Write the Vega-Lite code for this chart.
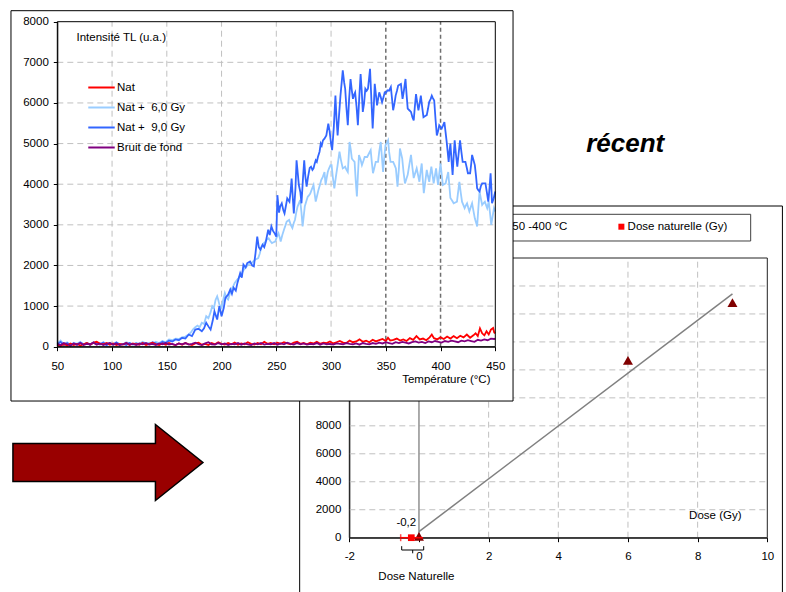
{
"$schema": "https://vega.github.io/schema/vega-lite/v6.json",
"width": 786, "height": 592, "autosize": "none", "padding": 0, "background": "white",
"config": {
  "view": {"stroke": null},
  "font": "Liberation Sans",
  "text": {"font": "Liberation Sans", "fontSize": 11.5, "color": "#000"},
  "axis": {"labelFont": "Liberation Sans", "titleFont": "Liberation Sans", "labelFontSize": 11.5, "titleFontSize": 11.5, "labelColor": "#000", "titleColor": "#000", "titleFontWeight": "normal", "domainColor": "#000", "tickColor": "#000", "grid": false, "labelOverlap": false, "labelFlush": false}
},
"datasets": {
  "fgy": [{"g":1000},{"g":2000},{"g":3000},{"g":4000},{"g":5000},{"g":6000},{"g":7000}],
  "fgx": [{"g":100},{"g":150},{"g":200},{"g":250},{"g":300}],
  "fvx": [{"g":350},{"g":400}],
  "bgy": [{"g":2000},{"g":4000},{"g":6000},{"g":8000},{"g":10000},{"g":12000},{"g":14000},{"g":16000},{"g":18000}],
  "bgx": [{"g":2},{"g":4},{"g":6},{"g":8}],
  "pts": [{"dose":0,"I":100},{"dose":6,"I":12685},{"dose":9,"I":16804}],
  "fit": [{"dose":0,"I":430},{"dose":9,"I":17440}],
  "natdose": [{"dose":-0.22,"I":0,"lo":-0.525,"hi":0.115,"label":"-0,2"}],
  "d9": [{"T":50,"v":60},{"T":53,"v":120},{"T":56,"v":40},{"T":59,"v":90},{"T":62,"v":30},{"T":65,"v":80},{"T":68,"v":50},{"T":71,"v":100},{"T":74,"v":60},{"T":77,"v":90},{"T":80,"v":40},{"T":83,"v":110},{"T":86,"v":70},{"T":89,"v":60},{"T":92,"v":100},{"T":95,"v":40},{"T":98,"v":80},{"T":101,"v":60},{"T":104,"v":110},{"T":107,"v":50},{"T":110,"v":70},{"T":113,"v":40},{"T":116,"v":90},{"T":119,"v":60},{"T":122,"v":80},{"T":125,"v":50},{"T":128,"v":100},{"T":131,"v":70},{"T":134,"v":60},{"T":137,"v":110},{"T":140,"v":80},{"T":143,"v":60},{"T":146,"v":120},{"T":149,"v":90},{"T":152,"v":150},{"T":155,"v":130},{"T":158,"v":180},{"T":161,"v":160},{"T":164,"v":220},{"T":167,"v":200},{"T":170,"v":300},{"T":173,"v":260},{"T":176,"v":420},{"T":179,"v":440},{"T":182,"v":380},{"T":184,"v":450},{"T":186,"v":590},{"T":188,"v":500},{"T":190,"v":420},{"T":192,"v":650},{"T":193.5,"v":870},{"T":196,"v":670},{"T":198,"v":1000},{"T":200,"v":750},{"T":202,"v":950},{"T":203.5,"v":1200},{"T":206,"v":1280},{"T":208,"v":1410},{"T":209.5,"v":1300},{"T":211,"v":1450},{"T":213,"v":1380},{"T":214.5,"v":1570},{"T":217,"v":1810},{"T":218.5,"v":1700},{"T":220,"v":2020},{"T":222,"v":1950},{"T":223.5,"v":2060},{"T":226,"v":2100},{"T":228,"v":2000},{"T":229.5,"v":1980},{"T":231,"v":2300},{"T":232.6,"v":2710},{"T":234,"v":2450},{"T":235.5,"v":2390},{"T":237.5,"v":2510},{"T":239,"v":2450},{"T":240.5,"v":2590},{"T":242.6,"v":2880},{"T":244,"v":2750},{"T":245.5,"v":2960},{"T":247,"v":2850},{"T":248.5,"v":2790},{"T":250,"v":2710},{"T":251,"v":3730},{"T":252.5,"v":3300},{"T":253.5,"v":3450},{"T":255,"v":3530},{"T":256.5,"v":3350},{"T":257.5,"v":3280},{"T":259,"v":3500},{"T":260,"v":3650},{"T":262,"v":3570},{"T":263,"v":3800},{"T":264,"v":4140},{"T":265,"v":3700},{"T":266,"v":3280},{"T":267.5,"v":3900},{"T":268.5,"v":4590},{"T":269.5,"v":4300},{"T":270.6,"v":3980},{"T":272,"v":3800},{"T":273,"v":3530},{"T":274.5,"v":4200},{"T":275.5,"v":4590},{"T":276.5,"v":4200},{"T":277.7,"v":3940},{"T":279,"v":4180},{"T":280.5,"v":4400},{"T":281.7,"v":4430},{"T":283,"v":4350},{"T":284,"v":4390},{"T":285,"v":4500},{"T":286,"v":4590},{"T":287,"v":4550},{"T":288,"v":4670},{"T":289.5,"v":4800},{"T":290.6,"v":5000},{"T":291.5,"v":4950},{"T":292.6,"v":5080},{"T":294,"v":5120},{"T":295.7,"v":5200},{"T":297.5,"v":5490},{"T":298.7,"v":5300},{"T":300,"v":5000},{"T":301,"v":4840},{"T":302.5,"v":5400},{"T":304,"v":6180},{"T":305,"v":5600},{"T":306,"v":5200},{"T":307.3,"v":5700},{"T":308.6,"v":6180},{"T":309.7,"v":6500},{"T":310.7,"v":6800},{"T":312,"v":6500},{"T":312.9,"v":6350},{"T":314,"v":5900},{"T":315.3,"v":5450},{"T":316.5,"v":6100},{"T":317.8,"v":6590},{"T":319,"v":6300},{"T":320,"v":6100},{"T":321,"v":6200},{"T":322,"v":6260},{"T":323.3,"v":5900},{"T":324.5,"v":5450},{"T":325.7,"v":6100},{"T":327,"v":6710},{"T":328,"v":6300},{"T":329,"v":5780},{"T":330.2,"v":6000},{"T":331.3,"v":6350},{"T":332.5,"v":6300},{"T":333.7,"v":6350},{"T":334.7,"v":6600},{"T":335.6,"v":6840},{"T":336.8,"v":6100},{"T":338,"v":5370},{"T":339,"v":5900},{"T":339.9,"v":6470},{"T":341,"v":6200},{"T":342,"v":5940},{"T":343,"v":6100},{"T":344,"v":6260},{"T":345.3,"v":6150},{"T":346.6,"v":6020},{"T":348,"v":6150},{"T":349,"v":6260},{"T":350.2,"v":6250},{"T":351.5,"v":6310},{"T":353,"v":6300},{"T":354.6,"v":6390},{"T":355.7,"v":6100},{"T":356.7,"v":5820},{"T":358,"v":6000},{"T":359,"v":6180},{"T":360.2,"v":6300},{"T":361.3,"v":6430},{"T":362.5,"v":6450},{"T":363.8,"v":6470},{"T":365.3,"v":6100},{"T":366.5,"v":6300},{"T":368,"v":6590},{"T":369,"v":6200},{"T":370,"v":5860},{"T":371.5,"v":5820},{"T":373,"v":5780},{"T":374.3,"v":5650},{"T":375.5,"v":5570},{"T":376.5,"v":5900},{"T":377.6,"v":6220},{"T":378.7,"v":6000},{"T":379.8,"v":5820},{"T":381,"v":6000},{"T":382,"v":6180},{"T":383.2,"v":5900},{"T":384.4,"v":5650},{"T":386,"v":5680},{"T":387.4,"v":5700},{"T":388.5,"v":5850},{"T":389.6,"v":6020},{"T":391,"v":6100},{"T":392,"v":6180},{"T":393,"v":6120},{"T":394.2,"v":6060},{"T":395.4,"v":5600},{"T":396.6,"v":5200},{"T":397.7,"v":5300},{"T":398.8,"v":5450},{"T":400,"v":5400},{"T":401,"v":5370},{"T":402.3,"v":5450},{"T":403.5,"v":5530},{"T":404.5,"v":5300},{"T":405.6,"v":5040},{"T":406.5,"v":4800},{"T":407.4,"v":4550},{"T":408.2,"v":4800},{"T":409,"v":5000},{"T":410,"v":4600},{"T":411,"v":4230},{"T":412,"v":4700},{"T":412.9,"v":5080},{"T":414,"v":4750},{"T":415.3,"v":4430},{"T":416.5,"v":4750},{"T":417.8,"v":5080},{"T":419,"v":4800},{"T":420.2,"v":4550},{"T":421.5,"v":4550},{"T":422.7,"v":4550},{"T":424,"v":4400},{"T":425,"v":4270},{"T":426,"v":4270},{"T":427,"v":4270},{"T":428,"v":4500},{"T":428.8,"v":4720},{"T":430,"v":4600},{"T":431.3,"v":4470},{"T":432.4,"v":4200},{"T":433.4,"v":3900},{"T":434.5,"v":3850},{"T":435.6,"v":3820},{"T":436.8,"v":3950},{"T":438,"v":4020},{"T":439.5,"v":4020},{"T":441,"v":4020},{"T":442.3,"v":3800},{"T":443.6,"v":3570},{"T":444.7,"v":3900},{"T":445.7,"v":4270},{"T":446.4,"v":3900},{"T":447,"v":3530},{"T":448.5,"v":3650},{"T":450,"v":3820}],
  "d6": [{"T":50,"v":80},{"T":53,"v":150},{"T":56,"v":60},{"T":59,"v":110},{"T":62,"v":50},{"T":65,"v":100},{"T":68,"v":70},{"T":71,"v":120},{"T":74,"v":50},{"T":77,"v":90},{"T":80,"v":60},{"T":83,"v":100},{"T":86,"v":80},{"T":89,"v":50},{"T":92,"v":110},{"T":95,"v":70},{"T":98,"v":90},{"T":101,"v":50},{"T":104,"v":100},{"T":107,"v":70},{"T":110,"v":60},{"T":113,"v":110},{"T":116,"v":80},{"T":119,"v":50},{"T":122,"v":90},{"T":125,"v":70},{"T":128,"v":120},{"T":131,"v":80},{"T":134,"v":100},{"T":137,"v":60},{"T":140,"v":120},{"T":143,"v":90},{"T":146,"v":140},{"T":149,"v":110},{"T":152,"v":180},{"T":155,"v":160},{"T":158,"v":200},{"T":161,"v":190},{"T":164,"v":230},{"T":167,"v":250},{"T":170,"v":300},{"T":172,"v":350},{"T":174,"v":430},{"T":176,"v":480},{"T":178,"v":520},{"T":180,"v":480},{"T":182,"v":590},{"T":184,"v":560},{"T":186,"v":750},{"T":188,"v":700},{"T":190,"v":850},{"T":191.5,"v":1000},{"T":193,"v":950},{"T":194.5,"v":1150},{"T":196,"v":1240},{"T":197,"v":1150},{"T":198,"v":1040},{"T":200,"v":960},{"T":201.5,"v":1150},{"T":203,"v":1320},{"T":204.5,"v":1200},{"T":206,"v":1160},{"T":207.5,"v":1300},{"T":209,"v":1410},{"T":210.5,"v":1480},{"T":212,"v":1570},{"T":214,"v":1640},{"T":215.5,"v":1690},{"T":217,"v":1750},{"T":218.5,"v":1810},{"T":220,"v":1880},{"T":221.5,"v":1940},{"T":223,"v":1980},{"T":224.5,"v":2020},{"T":226,"v":2050},{"T":227.5,"v":2060},{"T":229,"v":2100},{"T":230.5,"v":2140},{"T":232,"v":2160},{"T":233.5,"v":2180},{"T":235,"v":2300},{"T":236.5,"v":2470},{"T":238,"v":2530},{"T":240,"v":2590},{"T":241.5,"v":2640},{"T":243,"v":2670},{"T":244.5,"v":2600},{"T":246,"v":2550},{"T":247.5,"v":2570},{"T":249,"v":2590},{"T":250.5,"v":2700},{"T":252,"v":2790},{"T":253,"v":2700},{"T":254,"v":2590},{"T":255.5,"v":2750},{"T":257,"v":2880},{"T":258.3,"v":2980},{"T":259.5,"v":3080},{"T":260.6,"v":3100},{"T":261.7,"v":3120},{"T":263.2,"v":3000},{"T":264.7,"v":2920},{"T":266,"v":3050},{"T":267,"v":3120},{"T":268.2,"v":3300},{"T":269.4,"v":3450},{"T":270.6,"v":3530},{"T":271.8,"v":3610},{"T":273,"v":3300},{"T":274,"v":2960},{"T":275,"v":3200},{"T":276,"v":3450},{"T":277.4,"v":3580},{"T":278.7,"v":3690},{"T":280,"v":3730},{"T":281,"v":3770},{"T":282.5,"v":3880},{"T":284,"v":3980},{"T":285,"v":3770},{"T":286,"v":3570},{"T":287.3,"v":3720},{"T":288.5,"v":3860},{"T":290,"v":4000},{"T":291,"v":4100},{"T":292.5,"v":4180},{"T":294,"v":4300},{"T":295,"v":3980},{"T":296,"v":4150},{"T":297,"v":4300},{"T":298,"v":4380},{"T":299.5,"v":4470},{"T":300.5,"v":4470},{"T":301.5,"v":4200},{"T":303,"v":3900},{"T":304.5,"v":4200},{"T":306,"v":4470},{"T":307.7,"v":4800},{"T":309,"v":4600},{"T":310.7,"v":4390},{"T":312,"v":4410},{"T":312.9,"v":4430},{"T":314,"v":4360},{"T":315.3,"v":4300},{"T":316.9,"v":5040},{"T":318,"v":4850},{"T":319,"v":4630},{"T":320.2,"v":4590},{"T":321.5,"v":4550},{"T":322.5,"v":4100},{"T":323.6,"v":3700},{"T":324.5,"v":4200},{"T":325.5,"v":4720},{"T":327,"v":4600},{"T":328.2,"v":4470},{"T":329.5,"v":4570},{"T":330.7,"v":4670},{"T":332,"v":4670},{"T":333,"v":4670},{"T":334.5,"v":4750},{"T":336.2,"v":4840},{"T":337.2,"v":4550},{"T":338.3,"v":4270},{"T":339.5,"v":4400},{"T":340.8,"v":4550},{"T":342,"v":4550},{"T":342.9,"v":4550},{"T":344,"v":4800},{"T":345.4,"v":5040},{"T":346.5,"v":4650},{"T":347.5,"v":4300},{"T":348.5,"v":4630},{"T":349.7,"v":4960},{"T":351,"v":5020},{"T":352.1,"v":5080},{"T":353,"v":4800},{"T":354.3,"v":4550},{"T":355.5,"v":4550},{"T":356.7,"v":4550},{"T":358,"v":4470},{"T":359.2,"v":4390},{"T":360,"v":4150},{"T":360.7,"v":3940},{"T":362,"v":4400},{"T":362.9,"v":4880},{"T":364,"v":4750},{"T":365,"v":4630},{"T":366.2,"v":4300},{"T":367.5,"v":4020},{"T":368.7,"v":4120},{"T":370,"v":4230},{"T":371.5,"v":4480},{"T":373,"v":4720},{"T":374.2,"v":4430},{"T":375.5,"v":4150},{"T":376.8,"v":4270},{"T":378.2,"v":4390},{"T":379.5,"v":4220},{"T":380.7,"v":4060},{"T":381.7,"v":4300},{"T":382.8,"v":4510},{"T":383.7,"v":4150},{"T":384.7,"v":3780},{"T":386,"v":4050},{"T":387.4,"v":4350},{"T":388.5,"v":4200},{"T":389.7,"v":4060},{"T":390.6,"v":4250},{"T":391.6,"v":4430},{"T":392.7,"v":4220},{"T":393.7,"v":4020},{"T":394.8,"v":4200},{"T":395.9,"v":4390},{"T":396.8,"v":4180},{"T":397.7,"v":3980},{"T":398.8,"v":4250},{"T":400,"v":4510},{"T":401,"v":4250},{"T":402.1,"v":3980},{"T":403.3,"v":4000},{"T":404.6,"v":4020},{"T":405.8,"v":4160},{"T":407,"v":4300},{"T":408,"v":3980},{"T":409,"v":3660},{"T":410.5,"v":3600},{"T":412,"v":3530},{"T":413.5,"v":3550},{"T":415,"v":3570},{"T":416,"v":3800},{"T":417.2,"v":4060},{"T":418.4,"v":3800},{"T":419.6,"v":3570},{"T":420.8,"v":3490},{"T":422,"v":3410},{"T":423,"v":3470},{"T":424.2,"v":3530},{"T":425.2,"v":3430},{"T":426.3,"v":3330},{"T":427.5,"v":3430},{"T":428.8,"v":3530},{"T":430,"v":3350},{"T":431.3,"v":3160},{"T":432.4,"v":3060},{"T":433.4,"v":2960},{"T":434.5,"v":3400},{"T":435.6,"v":3820},{"T":436.8,"v":3650},{"T":438,"v":3490},{"T":439.2,"v":3530},{"T":440.5,"v":3570},{"T":441.5,"v":3490},{"T":442.6,"v":3410},{"T":443.3,"v":3490},{"T":444,"v":3570},{"T":445.2,"v":3280},{"T":446.3,"v":3000},{"T":447.5,"v":3200},{"T":448.8,"v":3410},{"T":450,"v":3330}],
  "nat": [{"T":50,"v":40},{"T":53,"v":20},{"T":56,"v":60},{"T":59,"v":30},{"T":62,"v":80},{"T":65,"v":40},{"T":68,"v":70},{"T":71,"v":30},{"T":74,"v":60},{"T":77,"v":90},{"T":80,"v":50},{"T":83,"v":100},{"T":86,"v":120},{"T":89,"v":70},{"T":92,"v":60},{"T":95,"v":90},{"T":98,"v":50},{"T":101,"v":80},{"T":104,"v":40},{"T":107,"v":70},{"T":110,"v":50},{"T":113,"v":90},{"T":116,"v":40},{"T":119,"v":80},{"T":122,"v":60},{"T":125,"v":50},{"T":128,"v":90},{"T":131,"v":40},{"T":134,"v":70},{"T":137,"v":100},{"T":140,"v":60},{"T":143,"v":40},{"T":146,"v":80},{"T":149,"v":50},{"T":152,"v":90},{"T":155,"v":60},{"T":158,"v":40},{"T":161,"v":80},{"T":164,"v":50},{"T":167,"v":90},{"T":170,"v":60},{"T":173,"v":40},{"T":176,"v":80},{"T":179,"v":100},{"T":182,"v":50},{"T":185,"v":70},{"T":188,"v":40},{"T":191,"v":90},{"T":194,"v":60},{"T":197,"v":110},{"T":200,"v":70},{"T":203,"v":50},{"T":206,"v":90},{"T":209,"v":60},{"T":212,"v":100},{"T":215,"v":50},{"T":218,"v":80},{"T":221,"v":60},{"T":224,"v":110},{"T":227,"v":70},{"T":230,"v":50},{"T":233,"v":90},{"T":236,"v":60},{"T":239,"v":120},{"T":242,"v":70},{"T":245,"v":90},{"T":248,"v":60},{"T":251,"v":100},{"T":254,"v":70},{"T":257,"v":110},{"T":260,"v":80},{"T":263,"v":60},{"T":266,"v":100},{"T":269,"v":120},{"T":272,"v":70},{"T":275,"v":90},{"T":278,"v":60},{"T":281,"v":100},{"T":284,"v":80},{"T":287,"v":120},{"T":290,"v":70},{"T":293,"v":100},{"T":296,"v":90},{"T":299,"v":130},{"T":302,"v":80},{"T":305,"v":110},{"T":308,"v":140},{"T":311,"v":100},{"T":314,"v":90},{"T":317,"v":150},{"T":320,"v":110},{"T":323,"v":130},{"T":326,"v":180},{"T":329,"v":120},{"T":332,"v":150},{"T":335,"v":110},{"T":338,"v":170},{"T":341,"v":130},{"T":344,"v":160},{"T":347,"v":190},{"T":350,"v":140},{"T":352,"v":220},{"T":354,"v":150},{"T":357,"v":170},{"T":360,"v":200},{"T":363,"v":150},{"T":366,"v":180},{"T":369,"v":140},{"T":372,"v":210},{"T":375,"v":170},{"T":378,"v":260},{"T":381,"v":180},{"T":384,"v":200},{"T":387,"v":160},{"T":390,"v":230},{"T":392,"v":300},{"T":394,"v":210},{"T":397,"v":180},{"T":400,"v":230},{"T":403,"v":190},{"T":406,"v":250},{"T":409,"v":200},{"T":412,"v":260},{"T":415,"v":210},{"T":418,"v":270},{"T":421,"v":230},{"T":424,"v":300},{"T":427,"v":220},{"T":430,"v":280},{"T":432,"v":330},{"T":434,"v":260},{"T":436,"v":450},{"T":438,"v":330},{"T":440,"v":280},{"T":442,"v":380},{"T":444,"v":300},{"T":446,"v":420},{"T":448,"v":460},{"T":449,"v":350},{"T":450,"v":330}],
  "bg": [{"T":50,"v":70},{"T":53,"v":40},{"T":56,"v":90},{"T":59,"v":60},{"T":62,"v":30},{"T":65,"v":80},{"T":68,"v":50},{"T":71,"v":90},{"T":74,"v":40},{"T":77,"v":70},{"T":80,"v":60},{"T":83,"v":100},{"T":86,"v":50},{"T":89,"v":80},{"T":92,"v":40},{"T":95,"v":70},{"T":98,"v":90},{"T":101,"v":50},{"T":104,"v":80},{"T":107,"v":40},{"T":110,"v":60},{"T":113,"v":90},{"T":116,"v":50},{"T":119,"v":70},{"T":122,"v":40},{"T":125,"v":80},{"T":128,"v":60},{"T":131,"v":90},{"T":134,"v":50},{"T":137,"v":70},{"T":140,"v":40},{"T":143,"v":80},{"T":146,"v":60},{"T":149,"v":90},{"T":152,"v":50},{"T":155,"v":70},{"T":158,"v":40},{"T":161,"v":80},{"T":164,"v":60},{"T":167,"v":90},{"T":170,"v":50},{"T":173,"v":70},{"T":176,"v":100},{"T":179,"v":60},{"T":182,"v":40},{"T":185,"v":80},{"T":188,"v":110},{"T":191,"v":60},{"T":194,"v":50},{"T":197,"v":90},{"T":200,"v":60},{"T":203,"v":80},{"T":206,"v":40},{"T":209,"v":70},{"T":212,"v":60},{"T":215,"v":90},{"T":218,"v":50},{"T":221,"v":80},{"T":224,"v":60},{"T":227,"v":40},{"T":230,"v":80},{"T":233,"v":60},{"T":236,"v":90},{"T":239,"v":50},{"T":242,"v":70},{"T":245,"v":60},{"T":248,"v":90},{"T":251,"v":50},{"T":254,"v":80},{"T":257,"v":60},{"T":260,"v":100},{"T":263,"v":70},{"T":266,"v":50},{"T":269,"v":90},{"T":272,"v":60},{"T":275,"v":80},{"T":278,"v":50},{"T":281,"v":70},{"T":284,"v":60},{"T":287,"v":90},{"T":290,"v":50},{"T":293,"v":80},{"T":296,"v":60},{"T":299,"v":70},{"T":302,"v":50},{"T":305,"v":80},{"T":308,"v":70},{"T":311,"v":60},{"T":314,"v":90},{"T":317,"v":70},{"T":320,"v":60},{"T":323,"v":80},{"T":326,"v":50},{"T":329,"v":90},{"T":332,"v":70},{"T":335,"v":60},{"T":338,"v":90},{"T":341,"v":70},{"T":344,"v":100},{"T":347,"v":80},{"T":350,"v":110},{"T":353,"v":90},{"T":356,"v":70},{"T":359,"v":110},{"T":362,"v":90},{"T":365,"v":120},{"T":368,"v":100},{"T":371,"v":80},{"T":374,"v":110},{"T":377,"v":130},{"T":380,"v":100},{"T":383,"v":120},{"T":386,"v":90},{"T":389,"v":130},{"T":392,"v":110},{"T":395,"v":140},{"T":398,"v":120},{"T":401,"v":100},{"T":404,"v":140},{"T":407,"v":120},{"T":410,"v":150},{"T":413,"v":130},{"T":416,"v":110},{"T":419,"v":150},{"T":422,"v":130},{"T":425,"v":160},{"T":428,"v":140},{"T":431,"v":120},{"T":434,"v":170},{"T":437,"v":150},{"T":440,"v":180},{"T":443,"v":160},{"T":446,"v":200},{"T":449,"v":190},{"T":450,"v":200}]
},
"layer": [
  {
    "layer": [
      {"data": {"values": [{}]}, "mark": {"type": "rect", "fillOpacity": 0, "stroke": "black", "strokeWidth": 1},
       "encoding": {
         "x": {"datum": -3.425, "type": "quantitative", "scale": {"domain": [-2, 10], "range": [349.3, 767.3], "nice": false, "zero": false},
               "axis": {"orient": "bottom", "offset": -54.3, "values": [-2,0,2,4,6,8,10], "labelExpr": "'' + datum.value", "tickSize": 4, "labelPadding": 8.5, "title": "Dose (Gy)", "titleX": 741, "titleY": -22, "titleAlign": "right", "titleBaseline": "middle", "zindex": 0}},
         "x2": {"datum": 10.434},
         "y": {"datum": 23718, "type": "quantitative", "scale": {"domain": [0, 20000], "range": [537.7, 258], "nice": false, "zero": false},
               "axis": {"orient": "left", "offset": -349.3, "values": [0,2000,4000,6000,8000], "labelExpr": "'' + datum.value", "tickSize": 0, "labelPadding": 8.5, "title": null, "zindex": 0}},
         "y2": {"datum": -4455}
       }},
      {"data": {"name": "bgx"}, "mark": {"type": "rule", "color": "#c0c0c0", "strokeDash": [6, 4], "strokeWidth": 1},
       "encoding": {"x": {"field": "g", "type": "quantitative"}, "y": {"datum": 0}, "y2": {"datum": 20000}}},
      {"data": {"name": "bgy"}, "mark": {"type": "rule", "color": "#c0c0c0", "strokeDash": [6, 4], "strokeWidth": 1},
       "encoding": {"y": {"field": "g", "type": "quantitative"}, "x": {"datum": -2}, "x2": {"datum": 10}}},
      {"data": {"values": [{}]}, "mark": {"type": "rule", "color": "#7f7f7f", "strokeWidth": 1.3},
       "encoding": {"x": {"datum": 0}, "y": {"datum": 0}, "y2": {"datum": 20000}}},
      {"data": {"values": [{}]}, "mark": {"type": "rect", "fillOpacity": 0, "stroke": "#222", "strokeWidth": 1},
       "encoding": {"x": {"datum": -2}, "x2": {"datum": 10}, "y": {"datum": 0}, "y2": {"datum": 20000}}},
      {"data": {"name": "fit"}, "mark": {"type": "line", "color": "#808080", "strokeWidth": 1.5},
       "encoding": {"x": {"field": "dose", "type": "quantitative"}, "y": {"field": "I", "type": "quantitative"}}},
      {"data": {"name": "pts"}, "mark": {"type": "point", "shape": "triangle-up", "filled": true, "color": "#800000", "opacity": 1, "size": 100},
       "encoding": {"x": {"field": "dose", "type": "quantitative"}, "y": {"field": "I", "type": "quantitative"}}},
      {"data": {"name": "natdose"}, "mark": {"type": "rule", "color": "#ff0000", "strokeWidth": 1.5},
       "encoding": {"x": {"field": "lo", "type": "quantitative"}, "x2": {"field": "hi"}, "y": {"field": "I", "type": "quantitative"}}},
      {"data": {"name": "natdose"}, "mark": {"type": "tick", "orient": "vertical", "color": "#ff0000", "thickness": 1.5, "size": 7},
       "encoding": {"x": {"field": "lo", "type": "quantitative"}, "y": {"field": "I", "type": "quantitative"}}},
      {"data": {"name": "natdose"}, "mark": {"type": "point", "shape": "square", "filled": true, "color": "#ff0000", "opacity": 1, "size": 45},
       "encoding": {"x": {"field": "dose", "type": "quantitative"}, "y": {"field": "I", "type": "quantitative"}}},
      {"data": {"name": "natdose"}, "mark": {"type": "text", "dx": -5, "dy": -14.7, "align": "center", "baseline": "middle", "fontSize": 11.5},
       "encoding": {"x": {"field": "dose", "type": "quantitative"}, "y": {"field": "I", "type": "quantitative"}, "text": {"field": "label"}}},
      {"data": {"values": [{}]}, "mark": {"type": "point", "shape": "M -1 -0.35 L -1 0 L 1 0 L 1 -0.35 M 0 0 L 0 0.3", "filled": false, "stroke": "#000", "strokeWidth": 1, "opacity": 1, "size": 484},
       "encoding": {"x": {"datum": -0.18}, "y": {"datum": -880}}},
      {"data": {"values": [{}]}, "mark": {"type": "text", "text": "Dose Naturelle", "align": "center", "baseline": "middle", "fontSize": 11.5},
       "encoding": {"x": {"datum": -0.075}, "y": {"datum": -2789}}},
      {"data": {"values": [{}]}, "mark": {"type": "rect", "fill": "white", "stroke": "#404040", "strokeWidth": 1},
       "encoding": {"x": {"datum": -0.554}, "x2": {"datum": 9.523}, "y": {"datum": 21216}, "y2": {"datum": 23125}}},
      {"data": {"values": [{}]}, "mark": {"type": "point", "shape": "triangle-up", "filled": true, "color": "#800000", "opacity": 1, "size": 60},
       "encoding": {"x": {"datum": 0.42}, "y": {"datum": 22238}}},
      {"data": {"values": [{}]}, "mark": {"type": "text", "text": "Intensité TL 350 -400 °C", "align": "left", "baseline": "middle", "fontSize": 11.5},
       "encoding": {"x": {"datum": 0.697}, "y": {"datum": 22238}}},
      {"data": {"values": [{}]}, "mark": {"type": "point", "shape": "square", "filled": true, "color": "#ff0000", "opacity": 1, "size": 36},
       "encoding": {"x": {"datum": 5.811}, "y": {"datum": 22238}}},
      {"data": {"values": [{}]}, "mark": {"type": "text", "text": "Dose naturelle (Gy)", "align": "left", "baseline": "middle", "fontSize": 11.5},
       "encoding": {"x": {"datum": 5.99}, "y": {"datum": 22238}}},
      {"data": {"values": [{}]}, "mark": {"type": "text", "text": "récent", "align": "center", "baseline": "alphabetic", "fontSize": 26, "fontWeight": "bold", "fontStyle": "italic"},
       "encoding": {"x": {"datum": 5.92}, "y": {"datum": 27581}}},
      {"data": {"values": [{}]}, "mark": {"type": "point", "shape": "M -1 -0.2 L 0.5 -0.2 L 0.5 -0.4 L 1 0 L 0.5 0.4 L 0.5 0.2 L -1 0.2 Z", "filled": true, "fill": "#990000", "stroke": "#000", "strokeWidth": 1.5, "opacity": 1, "size": 36100},
       "encoding": {"x": {"datum": -8.929}, "y": {"datum": 5377}}}
    ]
  },
  {
    "layer": [
      {"data": {"values": [{}]}, "mark": {"type": "rect", "fill": "white", "stroke": "black", "strokeWidth": 1},
       "encoding": {
         "x": {"datum": 7.7, "type": "quantitative", "scale": {"domain": [50, 450], "range": [57.3, 495.3], "nice": false, "zero": false},
               "axis": {"orient": "bottom", "offset": -245.3, "values": [50,100,150,200,250,300,350,400,450], "labelExpr": "'' + datum.value", "tickSize": 4, "labelPadding": 10, "title": "Température (°C)", "titleX": 490, "titleY": 32.7, "titleAlign": "right", "titleBaseline": "middle", "zindex": 1}},
         "x2": {"datum": 466.2},
         "y": {"datum": -1337, "type": "quantitative", "scale": {"domain": [0, 8000], "range": [346.7, 21.7], "nice": false, "zero": false},
               "axis": {"orient": "left", "offset": -57.3, "values": [0,1000,2000,3000,4000,5000,6000,7000,8000], "labelExpr": "'' + datum.value", "tickSize": 4, "labelPadding": 5, "title": "Intensité TL (u.a.)", "titleX": 18.7, "titleY": 37.7, "titleAngle": 0, "titleAlign": "left", "titleBaseline": "middle", "zindex": 1}},
         "y2": {"datum": 8271}
       }},
      {"data": {"name": "fgy"}, "mark": {"type": "rule", "color": "#c0c0c0", "strokeDash": [6, 4], "strokeWidth": 1},
       "encoding": {"y": {"field": "g", "type": "quantitative"}, "x": {"datum": 50}, "x2": {"datum": 450}}},
      {"data": {"name": "fgx"}, "mark": {"type": "rule", "color": "#c0c0c0", "strokeDash": [6, 4], "strokeWidth": 1},
       "encoding": {"x": {"field": "g", "type": "quantitative"}, "y": {"datum": 0}, "y2": {"datum": 8000}}},
      {"data": {"name": "fvx"}, "mark": {"type": "rule", "color": "#6e6e6e", "strokeDash": [4, 3], "strokeWidth": 1.5},
       "encoding": {"x": {"field": "g", "type": "quantitative"}, "y": {"datum": 0}, "y2": {"datum": 8000}}},
      {"data": {"name": "d6"}, "mark": {"type": "line", "strokeWidth": 1.8},
       "encoding": {"x": {"field": "T", "type": "quantitative"}, "y": {"field": "v", "type": "quantitative"},
         "color": {"datum": "Nat +\u00a0 6,0 Gy", "type": "nominal",
           "scale": {"domain": ["Nat", "Nat +\u00a0 6,0 Gy", "Nat +\u00a0 9,0 Gy", "Bruit de fond"], "range": ["#ff0000", "#99ccff", "#3366ff", "#800080"]},
           "legend": {"orient": "none", "legendX": 87, "legendY": 73, "title": null, "padding": 0, "symbolType": "stroke", "symbolSize": 700, "symbolStrokeWidth": 2, "labelFontSize": 11.5, "labelFont": "Liberation Sans", "labelColor": "#000", "labelOffset": 1, "rowPadding": 0}}}},
      {"data": {"name": "d9"}, "mark": {"type": "line", "strokeWidth": 1.8},
       "encoding": {"x": {"field": "T", "type": "quantitative"}, "y": {"field": "v", "type": "quantitative"}, "color": {"datum": "Nat +\u00a0 9,0 Gy", "type": "nominal"}}},
      {"data": {"name": "nat"}, "mark": {"type": "line", "strokeWidth": 1.8},
       "encoding": {"x": {"field": "T", "type": "quantitative"}, "y": {"field": "v", "type": "quantitative"}, "color": {"datum": "Nat", "type": "nominal"}}},
      {"data": {"name": "bg"}, "mark": {"type": "line", "strokeWidth": 1.8},
       "encoding": {"x": {"field": "T", "type": "quantitative"}, "y": {"field": "v", "type": "quantitative"}, "color": {"datum": "Bruit de fond", "type": "nominal"}}},
      {"data": {"values": [{}]}, "mark": {"type": "rect", "fillOpacity": 0, "stroke": "#000", "strokeWidth": 1},
       "encoding": {"x": {"datum": 50}, "x2": {"datum": 450}, "y": {"datum": 0}, "y2": {"datum": 8000}}}
    ]
  }
],
"resolve": {"scale": {"x": "independent", "y": "independent", "color": "independent"}, "axis": {"x": "independent", "y": "independent"}}
}
